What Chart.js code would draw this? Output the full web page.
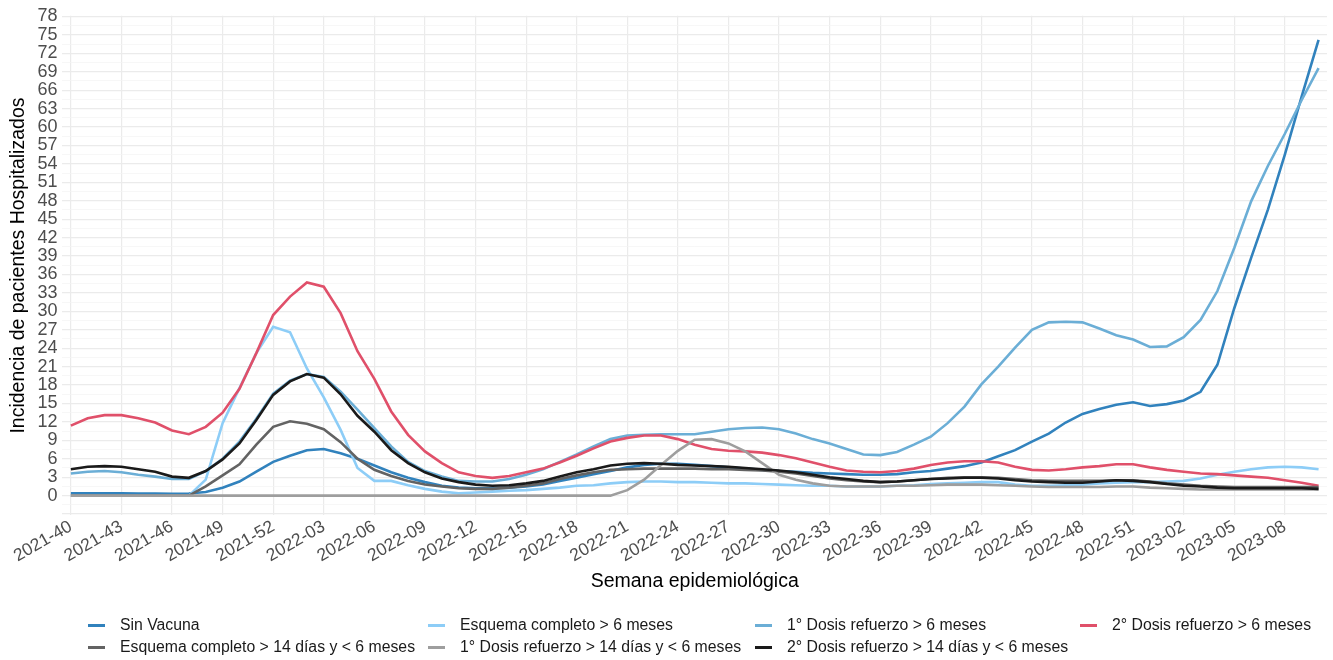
<!DOCTYPE html>
<html lang="es">
<head>
<meta charset="UTF-8" />
<title>Incidencia de pacientes hospitalizados</title>
<script src="https://cdn.jsdelivr.net/npm/chart.js"></script>
<style>
  body { margin: 0; background: #fff; font-family: 'Liberation Sans', Arial, sans-serif; }
  #wrap { position: relative; width: 1333px; height: 660px; }
  #legend { position: absolute; left: 0; top: 0; width: 1333px; height: 660px; pointer-events: none; }
  .item { position: absolute; font-size: 15.8px; color: #1a1a1a; white-space: nowrap; line-height: 18px; }
  .item i { position: absolute; width: 17px; height: 3px; top: 8px; }
</style>
</head>
<body>
<div id="wrap">
  <canvas id="chart" width="1333" height="660"></canvas>
  <div id="legend"></div>
</div>
<script>
const weeks = [
  "2021-40","2021-41","2021-42","2021-43","2021-44","2021-45","2021-46","2021-47","2021-48","2021-49",
  "2021-50","2021-51","2021-52","2022-01","2022-02","2022-03","2022-04","2022-05","2022-06","2022-07",
  "2022-08","2022-09","2022-10","2022-11","2022-12","2022-13","2022-14","2022-15","2022-16","2022-17",
  "2022-18","2022-19","2022-20","2022-21","2022-22","2022-23","2022-24","2022-25","2022-26","2022-27",
  "2022-28","2022-29","2022-30","2022-31","2022-32","2022-33","2022-34","2022-35","2022-36","2022-37",
  "2022-38","2022-39","2022-40","2022-41","2022-42","2022-43","2022-44","2022-45","2022-46","2022-47",
  "2022-48","2022-49","2022-50","2022-51","2022-52","2023-01","2023-02","2023-03","2023-04","2023-05",
  "2023-06","2023-07","2023-08","2023-09","2023-10"
];

const sinVacuna = [
  0.4,0.4,0.4,0.4,0.35,0.35,0.3,0.35,0.6,1.3,
  2.3,3.9,5.5,6.5,7.4,7.6,6.9,6.0,4.9,3.8,
  2.9,2.2,1.6,1.3,1.2,1.2,1.3,1.5,1.8,2.4,
  2.9,3.5,4.0,4.6,5.0,5.2,5.2,5.0,4.8,4.6,
  4.4,4.2,4.0,3.9,3.7,3.6,3.5,3.4,3.4,3.5,
  3.8,4.0,4.4,4.8,5.4,6.4,7.4,8.8,10.1,11.9,
  13.3,14.1,14.8,15.2,14.6,14.9,15.5,16.9,21.3,30.5,
  38.7,46.6,55.5,65.0,74.2
];
const esquema6m = [
  0,0,0,0,0,0,0,0,2.6,11.8,
  17.5,23.2,27.5,26.6,20.7,16.0,10.7,4.5,2.4,2.4,
  1.7,1.1,0.65,0.4,0.5,0.65,0.8,0.9,1.1,1.3,
  1.6,1.7,2.0,2.2,2.3,2.3,2.2,2.2,2.1,2.0,
  2.0,1.9,1.8,1.7,1.6,1.6,1.5,1.5,1.5,1.6,
  1.7,1.9,2.0,2.1,2.2,2.2,1.8,1.6,1.6,1.7,
  1.8,2.0,2.1,2.2,2.2,2.3,2.4,2.8,3.4,3.9,
  4.3,4.6,4.7,4.6,4.3
];
const refuerzo1_6m = [
  3.6,3.9,4.0,3.8,3.4,3.1,2.7,2.7,4.0,6.0,
  8.8,12.5,16.6,18.7,19.8,19.3,16.9,14.0,11.0,8.0,
  5.5,4.0,3.1,2.4,2.3,2.3,2.7,3.4,4.3,5.5,
  6.7,8.0,9.2,9.8,9.9,10.0,10.0,10.0,10.4,10.8,
  11.0,11.1,10.8,10.1,9.2,8.5,7.6,6.7,6.6,7.1,
  8.3,9.6,11.8,14.5,18.1,21.0,24.1,27.0,28.2,28.3,
  28.2,27.2,26.1,25.4,24.2,24.3,25.8,28.6,33.3,40.3,
  47.9,53.7,58.9,64.4,69.6
];
const refuerzo2_6m = [
  11.4,12.6,13.1,13.1,12.6,11.9,10.6,10.0,11.2,13.5,
  17.4,23.2,29.4,32.4,34.7,34.0,29.7,23.5,19.0,13.7,
  9.9,7.2,5.3,3.8,3.2,2.9,3.2,3.8,4.4,5.4,
  6.5,7.7,8.8,9.4,9.8,9.8,9.2,8.3,7.6,7.3,
  7.2,7.0,6.6,6.1,5.4,4.7,4.1,3.9,3.8,4.0,
  4.4,5.0,5.4,5.6,5.6,5.4,4.7,4.2,4.1,4.3,
  4.6,4.8,5.1,5.1,4.6,4.2,3.9,3.6,3.5,3.3,
  3.1,2.9,2.5,2.1,1.6
];
const esquema14d = [
  0,0,0,0,0,0,0,0,1.5,3.3,
  5.1,8.3,11.2,12.1,11.7,10.8,8.7,6.0,4.2,3.2,
  2.4,1.8,1.5,1.2,1.1,1.1,1.3,1.6,2.0,2.7,
  3.3,3.8,4.2,4.3,4.4,4.4,4.4,4.4,4.3,4.3,
  4.2,4.1,3.9,3.6,3.2,2.8,2.5,2.3,2.2,2.3,
  2.5,2.7,2.9,3.0,3.0,2.9,2.7,2.5,2.4,2.4,
  2.4,2.4,2.5,2.5,2.3,2.0,1.8,1.6,1.5,1.4,
  1.4,1.4,1.4,1.4,1.4
];
const refuerzo1_14d = [
  0,0,0,0,0,0,0,0,0,0,
  0,0,0,0,0,0,0,0,0,0,
  0,0,0,0,0,0,0,0,0,0,
  0,0,0,0.9,2.6,5.0,7.3,9.1,9.2,8.5,
  7.2,5.3,3.4,2.6,2.0,1.6,1.5,1.5,1.5,1.6,
  1.6,1.7,1.8,1.8,1.8,1.7,1.6,1.5,1.4,1.4,
  1.4,1.4,1.5,1.5,1.3,1.2,1.1,1.0,1.0,1.0,
  1.0,1.0,1.0,1.0,1.0
];
const refuerzo2_14d = [
  4.3,4.7,4.8,4.7,4.3,3.9,3.1,2.9,4.0,5.9,
  8.5,12.3,16.4,18.6,19.8,19.2,16.5,13.0,10.4,7.4,
  5.3,3.8,2.8,2.2,1.8,1.6,1.7,2.0,2.4,3.1,
  3.8,4.3,4.9,5.2,5.3,5.2,5.0,4.9,4.8,4.7,
  4.5,4.3,4.1,3.8,3.4,3.0,2.7,2.4,2.2,2.3,
  2.5,2.7,2.8,2.9,2.9,2.8,2.5,2.3,2.2,2.1,
  2.1,2.3,2.5,2.4,2.2,1.9,1.6,1.5,1.3,1.2,
  1.2,1.2,1.2,1.2,1.1
];

const seriesNames = [
  "Sin Vacuna",
  "Esquema completo > 6 meses",
  "1° Dosis refuerzo > 6 meses",
  "2° Dosis refuerzo > 6 meses",
  "Esquema completo > 14 días y < 6 meses",
  "1° Dosis refuerzo > 14 días y < 6 meses",
  "2° Dosis refuerzo > 14 días y < 6 meses"
];
const seriesValues = [sinVacuna, esquema6m, refuerzo1_6m, refuerzo2_6m, esquema14d, refuerzo1_14d, refuerzo2_14d];
const seriesColors = ["#3182bd", "#8dcdf7", "#6baed6", "#e0506a", "#636363", "#9e9e9e", "#1a1a1a"];

const yBreaks = [0,3,6,9,12,15,18,21,24,27,30,33,36,39,42,45,48,51,54,57,60,63,66,69,72,75,78];

// legend: 4 columns, filled row by row
const legendCols = [88, 428, 755, 1080];
const legendRows = [616, 638];
const legend = document.getElementById("legend");
seriesNames.forEach((name, i) => {
  const d = document.createElement("div");
  d.className = "item";
  d.style.left = legendCols[i % 4] + "px";
  d.style.top = legendRows[Math.floor(i / 4)] + "px";
  d.style.paddingLeft = "32px";
  d.innerHTML = `<i style="left:0;background:${seriesColors[i]}"></i>${name}`;
  legend.appendChild(d);
});

const minorTicks = [-3, -1.5];
yBreaks.forEach((b, i) => { minorTicks.push(b); if (i < yBreaks.length - 1) minorTicks.push(b + 1.5); });

new Chart(document.getElementById("chart"), {
  type: "line",
  data: {
    labels: weeks,
    datasets: seriesNames.map((name, i) => ({
      label: name,
      data: seriesValues[i],
      borderColor: seriesColors[i],
      backgroundColor: seriesColors[i],
      borderWidth: 2.6,
      pointRadius: 0,
      tension: 0,
      order: seriesNames.length - i
    }))
  },
  options: {
    responsive: false,
    animation: false,
    layout: { padding: { left: 7, right: 6, top: 8, bottom: 67 } },
    plugins: { legend: { display: false }, tooltip: { enabled: false } },
    scales: {
      x: {
        type: "category",
        offset: true,
        border: { display: false },
        grid: {
          drawTicks: false,
          color: ctx => ctx.index % 3 === 0 ? "#ebebeb" : "rgba(0,0,0,0)",
          lineWidth: 1.2
        },
        ticks: {
          autoSkip: false,
          minRotation: 30,
          maxRotation: 30,
          padding: 1,
          color: "#4d4d4d",
          font: { family: "'Liberation Sans', Arial", size: 17.5 },
          callback: (v, i) => i % 3 === 0 ? weeks[i] : ""
        },
        title: {
          display: true,
          text: "Semana epidemiológica",
          color: "#000",
          padding: { top: 2, bottom: 0 },
          font: { family: "'Liberation Sans', Arial", size: 19.5 }
        }
      },
      y: {
        min: -3.2,
        max: 78.1,
        border: { display: false },
        afterBuildTicks: s => { s.ticks = minorTicks.map(v => ({ value: v })); },
        grid: {
          drawTicks: false,
          color: ctx => (ctx.tick && ctx.tick.value % 3 === 0) ? "#ebebeb" : "#f3f3f3",
          lineWidth: ctx => (ctx.tick && ctx.tick.value % 3 === 0) ? 1.2 : 0.7
        },
        ticks: {
          autoSkip: false,
          padding: 5,
          color: "#4d4d4d",
          font: { family: "'Liberation Sans', Arial", size: 18 },
          callback: v => (v >= 0 && v % 3 === 0) ? v : ""
        },
        title: {
          display: true,
          text: "Incidencia de pacientes Hospitalizados",
          color: "#000",
          padding: { top: 0, bottom: 2 },
          font: { family: "'Liberation Sans', Arial", size: 19.5 }
        }
      }
    }
  }
});
</script>
</body>
</html>
